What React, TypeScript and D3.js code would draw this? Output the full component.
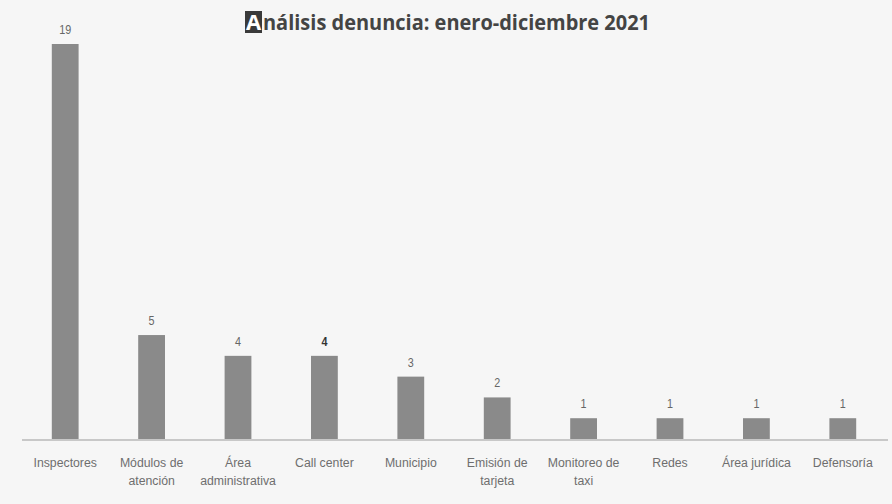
import React from "react";
import * as d3 from "d3";

const categories = [
  ["Inspectores"],
  ["Módulos de", "atención"],
  ["Área", "administrativa"],
  ["Call center"],
  ["Municipio"],
  ["Emisión de", "tarjeta"],
  ["Monitoreo de", "taxi"],
  ["Redes"],
  ["Área jurídica"],
  ["Defensoría"],
];
const values = [19, 5, 4, 4, 3, 2, 1, 1, 1, 1];
const titleFirst = "A";
const titleRest = "nálisis denuncia: enero-diciembre 2021";

const width = 892;
const height = 504;
const margin = { top: 44, right: 6, bottom: 65, left: 22 };

const Bars = ({ x, y }) => (
  <g>
    {values.map((v, i) => (
      <g key={i}>
        <rect
          x={x(i)}
          y={y(v)}
          width={x.bandwidth()}
          height={y(0) - y(v)}
          fill="#8a8a8a"
        />
        <text
          transform={`translate(${x(i) + x.bandwidth() / 2}, ${y(v) - 10}) scale(0.9, 1)`}
          textAnchor="middle"
          fontSize="12"
          fill={i === 3 ? "#333" : "#666"}
          fontWeight={i === 3 ? "bold" : "normal"}
        >
          {v}
        </text>
      </g>
    ))}
  </g>
);

// labels are squeezed a little, the original font is a narrow one
const XLabels = ({ x, y }) => (
  <g>
    {categories.map((lines, i) => (
      <text
        key={i}
        transform={`translate(${x(i) + x.bandwidth() / 2}, ${y(0) + 28}) scale(0.91, 1)`}
        textAnchor="middle"
        fontSize="13.5"
        fill="#6e6e6e"
      >
        {lines.map((l, j) => (
          <tspan key={j} x={0} dy={j === 0 ? 0 : 18.5}>
            {l}
          </tspan>
        ))}
      </text>
    ))}
  </g>
);

export default function App() {
  const x = d3
    .scaleBand<number>()
    .domain(values.map((_, i) => i))
    .range([margin.left, width - margin.right])
    .paddingInner(0.69)
    .paddingOuter(0.345);

  const y = d3
    .scaleLinear()
    .domain([0, d3.max(values)])
    .range([height - margin.bottom, margin.top]);

  return (
    <svg
      width={width}
      height={height}
      style={{ position: "absolute", left: 0, top: 0, display: "block" }}
      fontFamily="'Liberation Sans', sans-serif"
    >
      <rect width={width} height={height} fill="#f6f6f6" />
      <rect x={245} y={11} width={17} height={22} fill="#3a3a3a" />
      <text
        x={253.5}
        y={30}
        textAnchor="middle"
        fontSize="22"
        fontWeight="bold"
        fill="#fff"
        fontFamily="'Open Sans', sans-serif"
      >
        {titleFirst}
      </text>
      <text
        x={263}
        y={30}
        fontSize="22"
        fontWeight="bold"
        fill="#444"
        fontFamily="'Open Sans', sans-serif"
        textLength={387}
        lengthAdjust="spacingAndGlyphs"
      >
        {titleRest}
      </text>
      <Bars x={x} y={y} />
      <line
        x1={margin.left}
        x2={width - 4}
        y1={y(0) + 1}
        y2={y(0) + 1}
        stroke="#c8c8c8"
        strokeWidth={2}
      />
      <XLabels x={x} y={y} />
    </svg>
  );
}
